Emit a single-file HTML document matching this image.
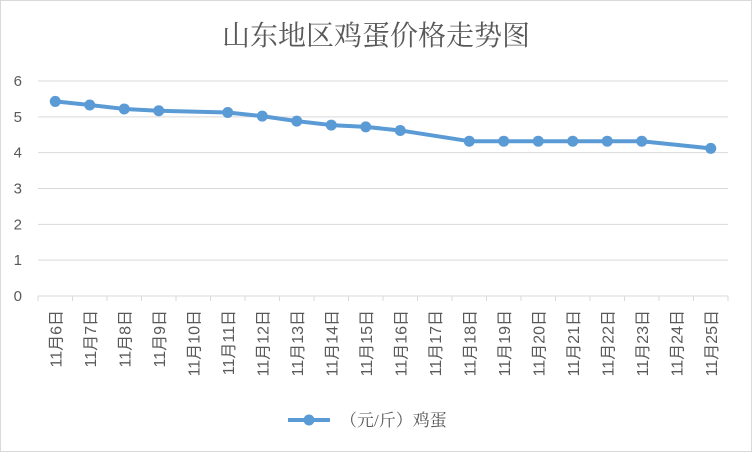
<!DOCTYPE html>
<html><head><meta charset="utf-8"><style>
body{margin:0;background:#fff}
svg{display:block;font-family:"Liberation Sans","Noto Sans CJK SC",sans-serif}
</style></head><body>
<svg id="c" width="752" height="452">
<rect x="0.5" y="0.5" width="751" height="451" fill="#fff" stroke="#d9d9d9"/>
<text x="376" y="45" text-anchor="middle" font-size="28" fill="#595959" style="font-family:'Liberation Serif','Noto Serif CJK SC',serif">山东地区鸡蛋价格走势图</text>
<g id="grid"></g><g id="xl"></g><g id="series"></g>
<g>
<line x1="288" y1="420" x2="330" y2="420" stroke="#5b9bd5" stroke-width="4"/>
<circle cx="309" cy="420" r="5.5" fill="#5b9bd5"/>
<text x="340" y="426" font-size="17" fill="#595959" style="font-family:'Liberation Serif','Noto Serif CJK SC',serif">（元/斤）鸡蛋</text>
</g>
</svg>
<script>
const categories=["11月6日","11月7日","11月8日","11月9日","11月10日","11月11日","11月12日","11月13日","11月14日","11月15日","11月16日","11月17日","11月18日","11月19日","11月20日","11月21日","11月22日","11月23日","11月24日","11月25日"];
const prices=[5.43,5.33,5.22,5.17,null,5.12,5.02,4.88,4.77,4.72,4.62,null,4.32,4.32,4.32,4.32,4.32,4.32,null,4.12];
const yTicks=[0,1,2,3,4,5,6];
const NS="http://www.w3.org/2000/svg";
const L=38,R=728,T=81,B=296,yMax=6;
const bw=(R-L)/categories.length;
const x=i=>L+bw*(i+0.5);
const y=v=>B-(v/yMax)*(B-T);
function mk(t,a,p){const e=document.createElementNS(NS,t);for(const k in a)e.setAttribute(k,a[k]);p.appendChild(e);return e;}
const grid=document.getElementById('grid');
yTicks.forEach(v=>{
  const l=mk('line',{x1:L,x2:R,y1:y(v),y2:y(v),stroke:'#d9d9d9','stroke-width':1},grid);
  
  
  const t=mk('text',{x:22,y:y(v)+5,'text-anchor':'end','font-size':15,fill:'#595959'},grid);
  t.textContent=v;
  
  
});
for(let i=0;i<=categories.length;i++){
  const tk=mk('line',{x1:L+bw*i,x2:L+bw*i,y1:B,y2:B+5,stroke:'#d9d9d9'},grid);
  
  
}
const xl=document.getElementById('xl');
categories.forEach((c,i)=>{
  const t=mk('text',{x:0,y:0,'text-anchor':'end','font-size':16,fill:'#595959',transform:`translate(${x(i)+6},310) rotate(-90)`},xl);
  t.textContent=c;
  
  
});
const s=document.getElementById('series');
const pts=prices.map((v,i)=>v==null?null:[x(i),y(v)]).filter(p=>p);
const pl=mk('polyline',{points:pts.map(p=>p.join(',')).join(' '),fill:'none',stroke:'#5b9bd5','stroke-width':4,'stroke-linejoin':'round'},s);


prices.forEach((v,i)=>{
  if(v==null)return;
  const c=mk('circle',{cx:x(i),cy:y(v),r:5.5,fill:'#5b9bd5'},s);
  
  
});
</script>
</body></html>
